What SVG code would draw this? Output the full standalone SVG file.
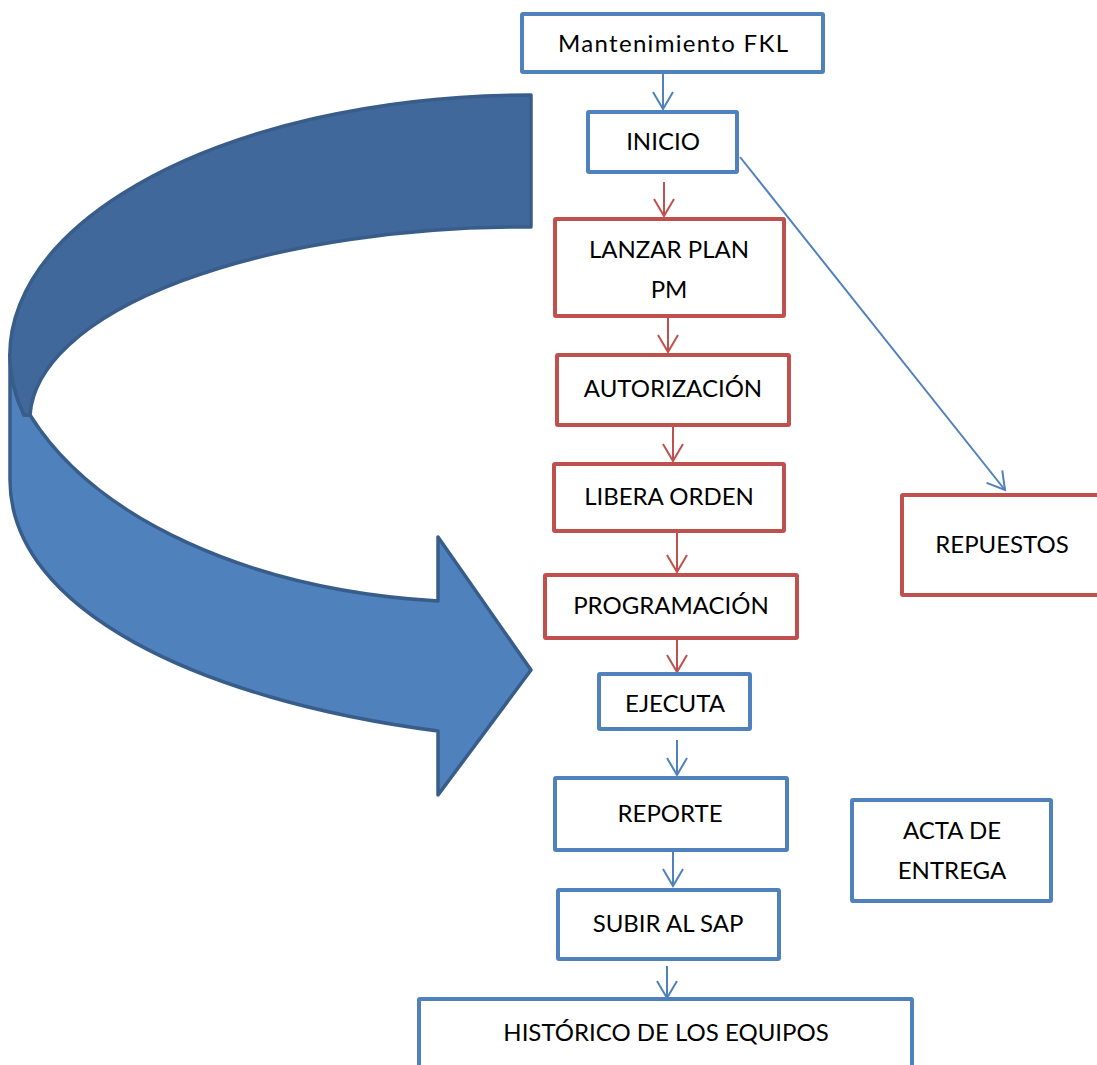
<svg xmlns="http://www.w3.org/2000/svg" width="1097" height="1065" viewBox="0 0 1097 1065">
<style>
.b{fill:#fff;stroke:#4F81BD;stroke-width:4}
.r{fill:#fff;stroke:#C0504D;stroke-width:4}
.t{font-family:Lato,"Open Sans","Liberation Sans",sans-serif;font-size:24px;fill:#000;text-anchor:middle}
.cb{fill:none;stroke:#4F81BD;stroke-width:2}
.cr{fill:none;stroke:#C0504D;stroke-width:2}
.arw{stroke:#385D8A;stroke-width:3.5;stroke-linejoin:round}
</style>
<defs>
<marker id="hb" viewBox="-19 -12 22 24" refX="0" refY="0" markerWidth="22" markerHeight="24" markerUnits="userSpaceOnUse" orient="auto">
<path d="M-17,-10 L0,0 L-17,10" fill="none" stroke="#4F81BD" stroke-width="2"/>
</marker>
<marker id="hr" viewBox="-19 -12 22 24" refX="0" refY="0" markerWidth="22" markerHeight="24" markerUnits="userSpaceOnUse" orient="auto">
<path d="M-17,-10 L0,0 L-17,10" fill="none" stroke="#C0504D" stroke-width="2"/>
</marker>
</defs>
<rect width="1097" height="1065" fill="#fff"/>
<g id="curved-arrow">
<path class="arw" fill="#4F81BD" d="M10,355 L10,480 C10,610 200,700 438,731 L438,795 L531,670 L438,537 L438,601 C250,590 95,519 30,415 L24,415 A521,260 0 0 1 10,355 Z"/>
<path class="arw" fill="#41689A" d="M531,95 A521,260 0 0 0 24,415 L30,415 A495,193 0 0 1 531,227 Z"/>
</g>
<g id="connectors">
<line class="cb" x1="663" y1="74" x2="663" y2="109" marker-end="url(#hb)"/>
<line class="cr" x1="664" y1="182" x2="664" y2="216" marker-end="url(#hr)"/>
<line class="cr" x1="668" y1="318" x2="668" y2="352" marker-end="url(#hr)"/>
<line class="cr" x1="673" y1="427" x2="673" y2="461" marker-end="url(#hr)"/>
<line class="cr" x1="677" y1="533" x2="677" y2="572" marker-end="url(#hr)"/>
<line class="cr" x1="677" y1="640" x2="677" y2="672" marker-end="url(#hr)"/>
<line class="cb" x1="677" y1="740" x2="677" y2="775" marker-end="url(#hb)"/>
<line class="cb" x1="673" y1="852" x2="673" y2="886" marker-end="url(#hb)"/>
<line class="cb" x1="667" y1="966" x2="667" y2="998" marker-end="url(#hb)"/>
<line class="cb" x1="740" y1="157" x2="1005" y2="490" marker-end="url(#hb)"/>
</g>
<g id="n-mantenimiento"><rect class="b" x="522" y="14" width="301" height="58" rx="1"/><text class="t" x="673" y="52" textLength="230" lengthAdjust="spacing">Mantenimiento FKL</text></g>
<g id="n-inicio"><rect class="b" x="588" y="112" width="149" height="60" rx="1"/><text class="t" x="663" y="150">INICIO</text></g>
<g id="n-lanzar"><rect class="r" x="555" y="219" width="229" height="97" rx="1"/><text class="t" x="669" y="258">LANZAR PLAN</text><text class="t" x="669" y="298">PM</text></g>
<g id="n-autorizacion"><rect class="r" x="557" y="355" width="232" height="70" rx="1"/><text class="t" x="673" y="397">AUTORIZACIÓN</text></g>
<g id="n-libera"><rect class="r" x="554" y="464" width="230" height="67" rx="1"/><text class="t" x="669" y="505">LIBERA ORDEN</text></g>
<g id="n-programacion"><rect class="r" x="545" y="575" width="252" height="63" rx="1"/><text class="t" x="671" y="614">PROGRAMACIÓN</text></g>
<g id="n-ejecuta"><rect class="b" x="599" y="674" width="151" height="55" rx="1"/><text class="t" x="675" y="712">EJECUTA</text></g>
<g id="n-reporte"><rect class="b" x="555" y="778" width="232" height="72" rx="1"/><text class="t" x="670" y="822">REPORTE</text></g>
<g id="n-subir"><rect class="b" x="558" y="890" width="221" height="69" rx="1"/><text class="t" x="668" y="932">SUBIR AL SAP</text></g>
<g id="n-historico"><rect class="b" x="419" y="999" width="493" height="100" rx="1"/><text class="t" x="666" y="1041">HISTÓRICO DE LOS EQUIPOS</text></g>
<g id="n-repuestos"><rect class="r" x="902" y="495" width="200" height="100" rx="1"/><text class="t" x="1002" y="553">REPUESTOS</text></g>
<g id="n-acta"><rect class="b" x="852" y="800" width="199" height="101" rx="1"/><text class="t" x="952" y="839">ACTA DE</text><text class="t" x="952" y="879">ENTREGA</text></g>
</svg>
